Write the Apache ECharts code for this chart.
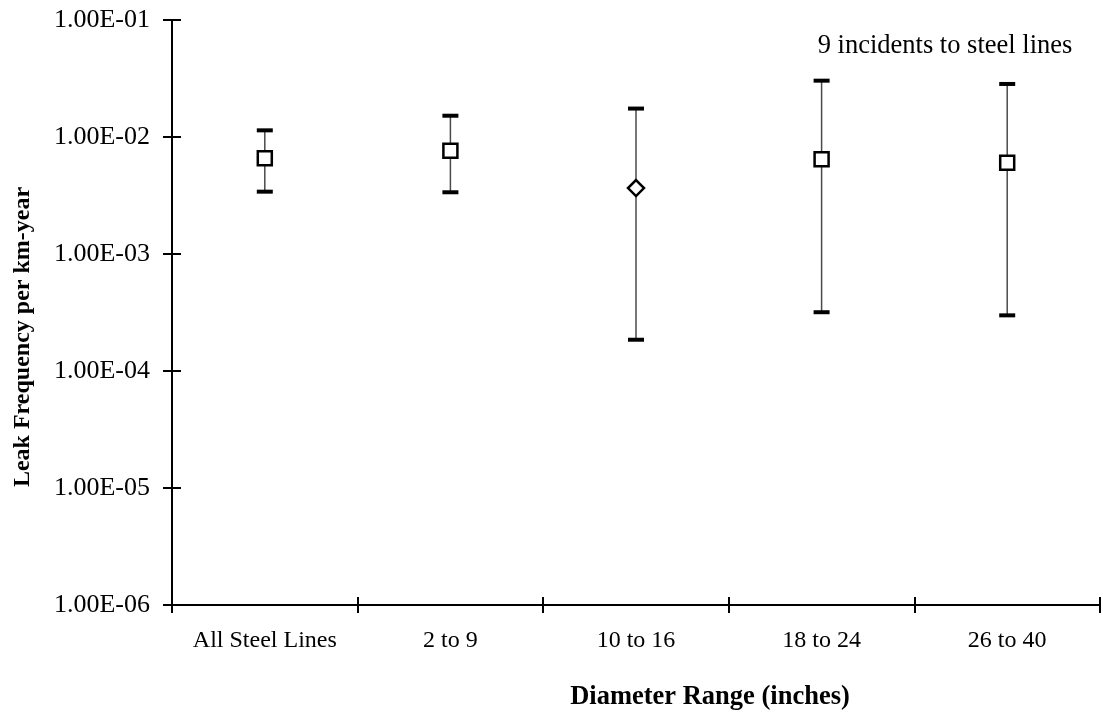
<!DOCTYPE html>
<html>
<head>
<meta charset="utf-8">
<title>Leak Frequency per km-year</title>
<script src="https://cdn.jsdelivr.net/npm/echarts@6/dist/echarts.min.js"></script>
<style>
  html, body { margin: 0; padding: 0; background: #fff; }
  #chart { width: 1103px; height: 713px; }
</style>
</head>
<body>
<div id="chart"></div>
<script>
// Diameter ranges on the category axis
const categories = ['All Steel Lines', '2 to 9', '10 to 16', '18 to 24', '26 to 40'];
// Best estimate of leak frequency (per km-year)
const leakFrequency = [6.58e-3, 7.64e-3, 3.66e-3, 6.44e-3, 6.03e-3];
// Confidence bounds
const upperBound = [1.14e-2, 1.52e-2, 1.75e-2, 3.03e-2, 2.84e-2];
const lowerBound = [3.41e-3, 3.37e-3, 1.85e-4, 3.18e-4, 2.99e-4];
// Decade tick labels, 1e-6 .. 1e-1
const yTickLabels = ['1.00E-06', '1.00E-05', '1.00E-04', '1.00E-03', '1.00E-02', '1.00E-01'];
// Marker shape per category
const markerShapes = ['rect', 'rect', 'diamond', 'rect', 'rect'];

const FONT = 'Liberation Serif';
const chart = echarts.init(document.getElementById('chart'), null, { renderer: 'canvas' });

function decadeLabel(v) {
  const e = Math.round(Math.log10(v));
  return yTickLabels[e + 6] || '';
}

const yBase = {
  type: 'log',
  logBase: 10,
  min: 1e-6,
  max: 1e-1,
  position: 'left',
  splitLine: { show: false },
  axisLine: { show: true, lineStyle: { color: '#000', width: 2 } },
  axisTick: { show: true, length: 9, lineStyle: { color: '#000', width: 2 } },
  axisLabel: {
    show: true, margin: 22, color: '#000',
    fontFamily: FONT, fontSize: 26,
    formatter: decadeLabel
  }
};

const xBase = {
  type: 'category',
  data: categories,
  position: 'bottom',
  boundaryGap: true,
  splitLine: { show: false },
  axisLine: { show: true, onZero: false, lineStyle: { color: '#000', width: 2 } },
  axisTick: { show: true, length: 8, interval: 0, lineStyle: { color: '#000', width: 2 } },
  axisLabel: {
    show: true, margin: 24, interval: 0, color: '#000',
    fontFamily: FONT, fontSize: 24
  }
};

// Second copies of the axes carry the inner half of each tick, so ticks cross the axis line
const yInner = Object.assign({}, yBase, {
  axisLine: { show: false },
  axisLabel: { show: false },
  axisTick: { show: true, inside: true, length: 9, lineStyle: { color: '#000', width: 2 } }
});
const xInner = Object.assign({}, xBase, {
  axisLine: { show: false, onZero: false },
  axisLabel: { show: false },
  axisTick: { show: true, inside: true, length: 8, interval: 0, lineStyle: { color: '#000', width: 2 } }
});

function renderErrorBar(params, api) {
  const idx = api.value(0);
  const top = api.coord([idx, api.value(2)]);
  const bot = api.coord([idx, api.value(1)]);
  const capW = 16, capH = 4;
  return {
    type: 'group',
    children: [
      { type: 'line', shape: { x1: top[0], y1: top[1], x2: bot[0], y2: bot[1] },
        style: { stroke: '#4a4a4a', lineWidth: 1.5 } },
      { type: 'rect', shape: { x: top[0] - capW / 2, y: top[1] - capH / 2, width: capW, height: capH },
        style: { fill: '#000' } },
      { type: 'rect', shape: { x: bot[0] - capW / 2, y: bot[1] - capH / 2, width: capW, height: capH },
        style: { fill: '#000' } }
    ]
  };
}

const option = {
  animation: false,
  backgroundColor: '#fff',
  grid: { left: 172, right: 3, top: 20, bottom: 108, containLabel: false },
  xAxis: [xBase, xInner],
  yAxis: [yBase, yInner],
  series: [
    {
      type: 'custom',
      xAxisIndex: 0,
      yAxisIndex: 0,
      renderItem: renderErrorBar,
      data: categories.map((c, i) => [i, lowerBound[i], upperBound[i]]),
      z: 2
    },
    {
      type: 'scatter',
      xAxisIndex: 0,
      yAxisIndex: 0,
      data: leakFrequency.map((v, i) => ({ value: [i, v], symbol: markerShapes[i] })),
      symbolSize: (val, params) => markerShapes[params.dataIndex] === 'diamond' ? 16 : 14,
      itemStyle: { color: '#fff', borderColor: '#000', borderWidth: 2.5, opacity: 1 },
      z: 3
    }
  ],
  graphic: [
    {
      type: 'text',
      style: {
        text: '9 incidents to steel lines',
        x: 945, y: 46,
        textAlign: 'center', textVerticalAlign: 'middle',
        font: '26.5px "Liberation Serif"', fill: '#000'
      }
    },
    {
      type: 'text',
      style: {
        text: 'Diameter Range (inches)',
        x: 710, y: 697,
        textAlign: 'center', textVerticalAlign: 'middle',
        font: 'bold 26.5px "Liberation Serif"', fill: '#000'
      }
    },
    {
      type: 'text',
      x: 23, y: 337,
      rotation: Math.PI / 2,
      style: {
        text: 'Leak Frequency per km-year',
        x: 0, y: 0,
        textAlign: 'center', textVerticalAlign: 'middle',
        font: 'bold 24px "Liberation Serif"', fill: '#000'
      }
    }
  ]
};

chart.setOption(option);
</script>
</body>
</html>
